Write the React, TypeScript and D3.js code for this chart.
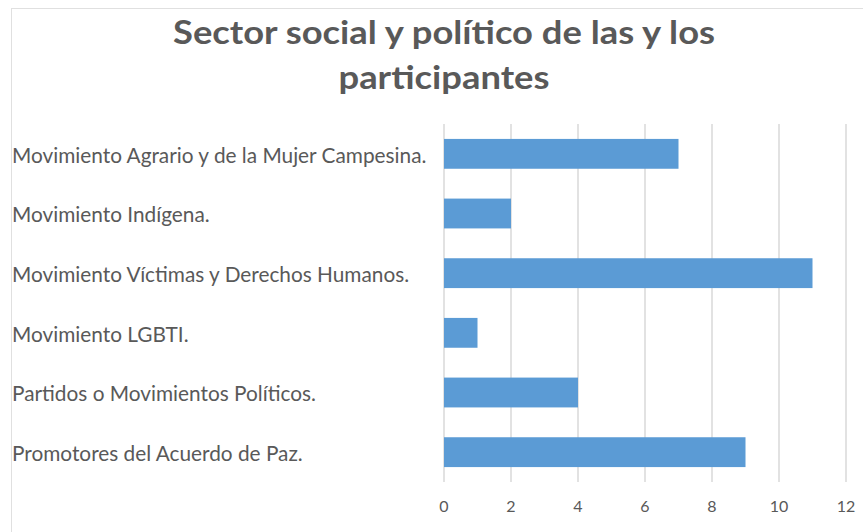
import React from "react";
import * as d3 from "d3";

const categories = [
  "Movimiento Agrario y de la Mujer Campesina.",
  "Movimiento Indígena.",
  "Movimiento Víctimas y Derechos Humanos.",
  "Movimiento LGBTI.",
  "Partidos o Movimientos Políticos.",
  "Promotores del Acuerdo de Paz.",
];
const values = [7, 2, 11, 1, 4, 9];
const ticks = [0, 2, 4, 6, 8, 10, 12];
const titleLines = ["Sector social y político de las y los", "participantes"];
const titleWidths = [542, 211];

const W = 863;
const H = 532;
const FONT = "Lato, 'Open Sans', sans-serif";

export default function App() {
  const x = d3.scaleLinear().domain([0, 12]).range([444, 846]);
  const y = d3.scaleBand<string>().domain(categories).range([124, 482]).paddingInner(0.5).paddingOuter(0.25);
  return (
    <svg width={W} height={H} style={{ position: "absolute", left: 0, top: 0 }}>
      <rect x={0} y={0} width={W} height={H} fill="#fff" />
      <line x1={11.5} y1={8} x2={11.5} y2={H} stroke="#e0e0e0" strokeWidth={1} />
      <line x1={11} y1={8.5} x2={W} y2={8.5} stroke="#e0e0e0" strokeWidth={1} />
      {titleLines.map((t, i) => (
        <text
          key={i}
          x={444 - titleWidths[i] / 2}
          y={44 + i * 45}
          textLength={titleWidths[i]}
          lengthAdjust="spacingAndGlyphs"
          fontFamily={FONT}
          fontWeight={700}
          fontSize={33}
          fill="#595959"
        >
          {t}
        </text>
      ))}
      {ticks.map((t) => (
        <g key={t}>
          <line x1={x(t)} x2={x(t)} y1={124} y2={482} stroke="#d9d9d9" strokeWidth={1.5} />
          <text x={x(t)} y={512} textAnchor="middle" fontFamily={FONT} fontSize={16} fill="#595959">
            {t}
          </text>
        </g>
      ))}
      {categories.map((c, i) => (
        <g key={c}>
          <rect x={x(0)} y={y(c)!} width={x(values[i]) - x(0)} height={y.bandwidth()} fill="#5b9bd5" />
          <text x={12} y={y(c)! + y.bandwidth() / 2} dy="0.42em" fontFamily={FONT} fontSize={20.8} fill="#595959">
            {c}
          </text>
        </g>
      ))}
    </svg>
  );
}
